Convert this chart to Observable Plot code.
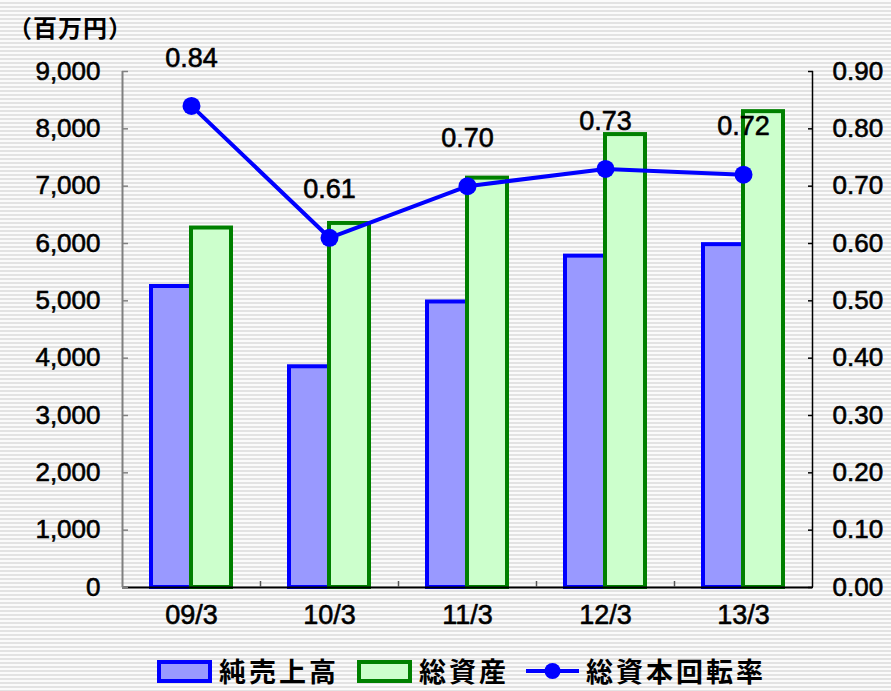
<!DOCTYPE html>
<html><head><meta charset="utf-8">
<script src="https://cdn.jsdelivr.net/npm/d3@7"></script>
<script src="https://cdn.jsdelivr.net/npm/@observablehq/plot@0.6"></script>
<style>
html,body{margin:0;padding:0;}
body{width:891px;height:691px;overflow:hidden;position:relative;
 background:repeating-linear-gradient(to bottom,#fbfbfb 0px,#fbfbfb 2px,#e3e3e3 2px,#e3e3e3 4px);
 font-family:"Liberation Sans",Arial,sans-serif;}
#chart{position:absolute;left:0;top:0;}
#title{position:absolute;left:8px;top:11px;font:bold 24px "Noto Sans CJK JP";letter-spacing:1px;line-height:32px;color:#000;}
#legend{position:absolute;left:0;top:653px;width:891px;height:36px;}
.item{display:flex;align-items:center;position:absolute;top:0;height:36px;}
.sw{box-sizing:border-box;width:55px;height:23px;}
.lt{font:bold 27px "Noto Sans CJK JP";letter-spacing:3px;margin-left:7px;color:#000;line-height:36px;white-space:nowrap;}
</style></head><body>
<div id="chart"></div>
<div id="title"></div>
<div id="legend"></div>
<script>
const categories = ["09/3","10/3","11/3","12/3","13/3"];
const sales = [5250, 3850, 4980, 5780, 5980];
const assets = [6270, 6350, 7140, 7900, 8300];
const turnover = [0.84, 0.61, 0.70, 0.73, 0.72];
const leftTicks = [0,1000,2000,3000,4000,5000,6000,7000,8000,9000];
const rightTicks = [0,0.1,0.2,0.3,0.4,0.5,0.6,0.7,0.8,0.9];
const seriesNames = ["純売上高","総資産","総資本回転率"];
const unitLabel = "（百万円）";
const RATIO = 10000; // right-axis value -> left-axis units

const W = 891, H = 653, ML = 122, MR = 79, MT = 71, MB = 66;
const band = (W - ML - MR) / categories.length;
const barW = 40;
const yMax = d3.max(leftTicks);
const rows = categories.map((c, i) => ({cat: c, sales: sales[i], assets: assets[i], ratio: turnover[i]}));
const heavy = {textStroke: "#000", textStrokeWidth: 0.6};

const chart = Plot.plot({
  width: W, height: H,
  marginLeft: ML, marginRight: MR, marginTop: MT, marginBottom: MB,
  style: {background: "transparent", fontFamily: "'Liberation Sans', Arial, sans-serif", fontSize: "26px", color: "#000", overflow: "visible"},
  x: {domain: categories, padding: 0, axis: null},
  y: {domain: [0, yMax], axis: null},
  marks: [
    Plot.barY(rows, {x: "cat", y: "sales", fill: "#9999ff", stroke: "#0000ff", strokeWidth: 4, insetLeft: band/2 - barW, insetRight: band/2}),
    Plot.barY(rows, {x: "cat", y: "assets", fill: "#ccffcc", stroke: "#008000", strokeWidth: 4, insetLeft: band/2, insetRight: band/2 - barW}),
    Plot.ruleY([0], {stroke: "#000", strokeWidth: 2}),
    Plot.ruleX([categories[0]], {dx: -band/2, y1: 0, y2: yMax, stroke: "#808080", strokeWidth: 2}),
    Plot.ruleX([categories[categories.length-1]], {dx: band/2, y1: 0, y2: yMax, stroke: "#000", strokeWidth: 1.5}),
    Plot.axisY(leftTicks, {anchor: "left", tickSize: -6, stroke: "#808080", fill: "none", strokeWidth: 1.5, label: null}),
    Plot.axisY(leftTicks, {anchor: "left", tickSize: 0, tickPadding: 22, tickFormat: d3.format(","), fill: "#000", label: null, ...heavy}),
    Plot.axisY(rightTicks.map(v => v * RATIO), {anchor: "right", tickSize: -5, stroke: "#000", fill: "none", strokeWidth: 1.5, label: null}),
    Plot.axisY(rightTicks.map(v => v * RATIO), {anchor: "right", tickSize: 0, tickPadding: 20, tickFormat: d => (d / RATIO).toFixed(2), fill: "#000", textAnchor: "start", label: null, ...heavy}),
    Plot.axisX(categories.slice(0, -1), {anchor: "bottom", tickSize: -6, stroke: "#555", fill: "none", dx: band/2, strokeWidth: 1.5, label: null}),
    Plot.axisX(categories, {anchor: "bottom", tickSize: 0, tickPadding: 17, fill: "#000", letterSpacing: "3px", fontSize: 27, label: null, ...heavy}),
    Plot.line(rows, {x: "cat", y: d => d.ratio * RATIO, stroke: "#0000ff", strokeWidth: 4}),
    Plot.dot(rows, {x: "cat", y: d => d.ratio * RATIO, r: 9, fill: "#0000ff", stroke: "none"}),
    Plot.text(rows, {x: "cat", y: d => d.ratio * RATIO, text: d => d.ratio.toFixed(2), dy: -48, fontSize: 27, fill: "#000", stroke: "#000", strokeWidth: 0.6})
  ]
});
document.getElementById("chart").appendChild(chart);
document.getElementById("title").textContent = unitLabel;

// legend
const legend = document.getElementById("legend");
const legendX = [157, 357, 526];
const swatches = [
  {type: "bar", fill: "#9999ff", stroke: "#0000ff"},
  {type: "bar", fill: "#ccffcc", stroke: "#008000"},
  {type: "line", stroke: "#0000ff"}
];
seriesNames.forEach((name, i) => {
  const item = document.createElement("div");
  item.className = "item";
  item.style.left = legendX[i] + "px";
  const s = swatches[i];
  if (s.type === "bar") {
    const sw = document.createElement("div");
    sw.className = "sw";
    sw.style.background = s.fill;
    sw.style.border = "4px solid " + s.stroke;
    item.appendChild(sw);
  } else {
    const ns = "http://www.w3.org/2000/svg";
    const svg = document.createElementNS(ns, "svg");
    svg.setAttribute("width", 53); svg.setAttribute("height", 24);
    const ln = document.createElementNS(ns, "line");
    ln.setAttribute("x1", 0); ln.setAttribute("x2", 53); ln.setAttribute("y1", 12); ln.setAttribute("y2", 12);
    ln.setAttribute("stroke", s.stroke); ln.setAttribute("stroke-width", 4);
    const c = document.createElementNS(ns, "circle");
    c.setAttribute("cx", 26.5); c.setAttribute("cy", 12); c.setAttribute("r", 8); c.setAttribute("fill", s.stroke);
    svg.appendChild(ln); svg.appendChild(c);
    item.appendChild(svg);
  }
  const t = document.createElement("span");
  t.className = "lt";
  t.textContent = name;
  item.appendChild(t);
  legend.appendChild(item);
});
</script>
</body></html>
